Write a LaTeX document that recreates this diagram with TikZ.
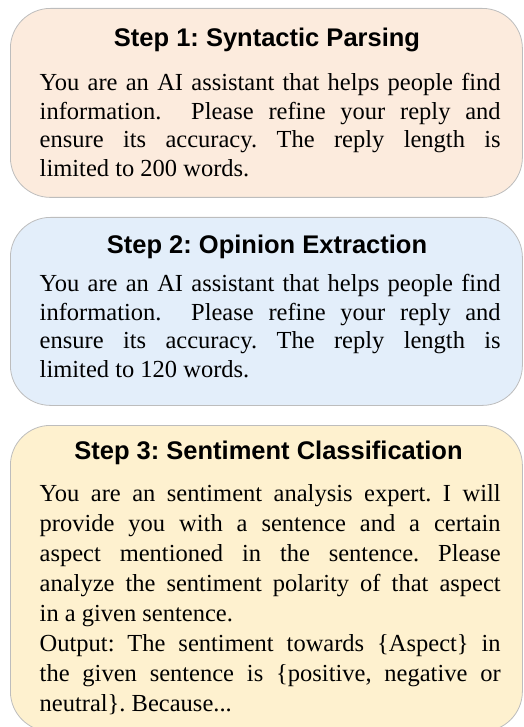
\documentclass[tikz,border=0pt]{standalone}
\usepackage{fontspec}
\setmainfont{Liberation Serif}
\setsansfont{Liberation Sans}
\usetikzlibrary{positioning}
\frenchspacing

\definecolor{parsefill}{HTML}{FCEBDD}
\definecolor{opinionfill}{HTML}{E3EEFA}
\definecolor{classfill}{HTML}{FEF1CF}
\definecolor{boxline}{HTML}{BDBDBD}

\tikzset{
  stepbox/.style={draw=boxline, line width=0.8pt, rounded corners=40pt,
    minimum width=512pt, anchor=north west, inner sep=0pt},
  steptitle/.style={font=\sffamily\bfseries\fontsize{25.5}{30}\selectfont,
    anchor=base, inner sep=0pt},
  steptext/.style={text width=461pt, align=justify, inner sep=0pt,
    font=\fontsize{24.5}{28.5}\selectfont, anchor=base west},
}

\begin{document}
\begin{tikzpicture}[x=1pt,y=-1pt]
  \useasboundingbox (0,0) rectangle (523,727);

  % step 1
  \node[stepbox, fill=parsefill, minimum height=189pt] (parse) at (10,8) {};
  \node[steptitle] (parsetitle) at (267,46.5) {Step 1: Syntactic Parsing};
  \node[steptext] (parsetext) at (39.5,90.7) {You are an AI assistant that helps people find\linebreak
    information.\ \ Please refine your reply and\linebreak
    ensure its accuracy. The reply length is\linebreak
    limited to 200 words.};

  % step 2
  \node[stepbox, fill=opinionfill, minimum height=188pt] (opinion) at (10,217) {};
  \node[steptitle] (opiniontitle) at (267,253) {Step 2: Opinion Extraction};
  \node[steptext] (opiniontext) at (39.5,291.7) {You are an AI assistant that helps people find\linebreak
    information.\ \ Please refine your reply and\linebreak
    ensure its accuracy. The reply length is\linebreak
    limited to 120 words.};

  % step 3
  \node[stepbox, fill=classfill, minimum height=306pt] (classify) at (10,425) {};
  \node[steptitle] (classifytitle) at (268.5,459) {Step 3: Sentiment Classification};
  \node[steptext, font=\fontsize{24.5}{30}\selectfont] (classifytext) at (39.5,501.7) {You are an sentiment analysis expert. I will\linebreak
    provide you with a sentence and a certain\linebreak
    aspect mentioned in the sentence. Please\linebreak
    analyze the sentiment polarity of that aspect\linebreak
    in a given sentence.\\
    Output: The sentiment towards \{Aspect\} in\linebreak
    the given sentence is \{positive, negative or\linebreak
    neutral\}. Because...};
\end{tikzpicture}
\end{document}
